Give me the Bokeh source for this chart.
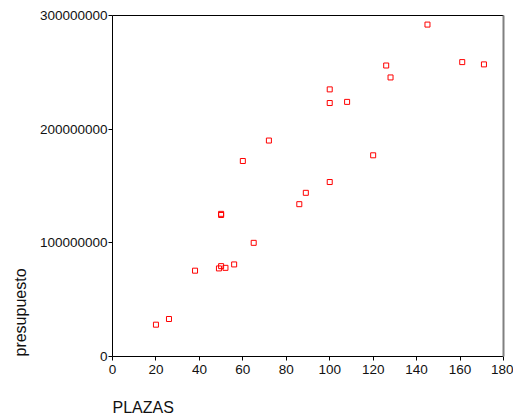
from bokeh.plotting import figure
from bokeh.models import Range1d, FixedTicker, BasicTickFormatter, LinearAxis, Title
from bokeh.embed import file_html
from bokeh.resources import INLINE

# Data (PLAZAS vs presupuesto)
plazas = [20, 26, 38, 49, 50, 52, 56, 50, 50, 60, 65, 72, 86, 89, 100, 100, 100,
          108, 120, 126, 128, 145, 161, 171]
presupuesto = [28e6, 33e6, 75.5e6, 77.5e6, 79.5e6, 78e6, 81e6, 125.5e6, 124.5e6,
               172e6, 100e6, 190e6, 134e6, 144e6, 153.5e6, 223e6, 235e6,
               224e6, 177e6, 256e6, 245.5e6, 292e6, 259e6, 257e6]
x_ticks = [0, 20, 40, 60, 80, 100, 120, 140, 160, 180]
y_ticks = [0, 100000000, 200000000, 300000000]
x_title = "PLAZAS"
y_title = "presupuesto"

FONT = "Liberation Sans"

p = figure(width=513, height=418, output_backend="svg", toolbar_location=None,
           x_range=Range1d(0, 180), y_range=Range1d(0, 300e6),
           min_border_left=112, min_border_right=10, min_border_top=15,
           min_border_bottom=62, background_fill_color="white",
           border_fill_color="white")
p.outline_line_color = None
p.grid.visible = False

p.scatter(plazas, presupuesto, marker="square", size=5, fill_color=None,
          line_color="red", line_width=1)

xa = p.xaxis[0]
xa.ticker = FixedTicker(ticks=x_ticks)
ya = p.yaxis[0]
ya.ticker = FixedTicker(ticks=y_ticks)
ya.formatter = BasicTickFormatter(use_scientific=False)

for ax in (xa, ya):
    ax.axis_line_color = "black"
    ax.axis_line_width = 1
    ax.major_tick_line_color = "black"
    ax.major_tick_in = 0
    ax.major_tick_out = 4
    ax.minor_tick_line_color = None
    ax.major_label_text_font = FONT
    ax.major_label_text_font_size = "13.5px"
    ax.major_label_text_color = "#111111"

ya.major_label_standoff = 1
xa.major_label_standoff = 4

# invisible axis below the x axis, only used to reserve room for the title
spacer = LinearAxis(ticker=FixedTicker(ticks=[x_ticks[0]]), axis_line_color=None,
                    major_tick_line_color="white", minor_tick_line_color=None,
                    major_tick_out=20, major_tick_in=0, minor_tick_out=0,
                    minor_tick_in=0, major_label_standoff=0,
                    major_label_text_color=None, major_label_text_alpha=0)
p.add_layout(spacer, "below")

# Axis titles anchored at the origin corner (as in the reference)
p.add_layout(Title(text=x_title, text_font=FONT, text_font_size="16px",
                   text_font_style="normal", text_color="#111111",
                   align="left", standoff=0), "below")
p.add_layout(Title(text=y_title, text_font=FONT, text_font_size="16px",
                   text_font_style="normal", text_color="#111111",
                   align="left", standoff=16), "left")

top = LinearAxis(ticker=FixedTicker(ticks=[]), major_tick_line_color=None,
                 minor_tick_line_color=None, axis_line_color="black",
                 axis_line_width=1)
p.add_layout(top, "above")
right = LinearAxis(ticker=FixedTicker(ticks=[]), major_tick_line_color=None,
                   minor_tick_line_color=None, axis_line_color="#808080",
                   axis_line_width=2)
p.add_layout(right, "right")

open("out.html", "w").write(file_html(p, INLINE))
